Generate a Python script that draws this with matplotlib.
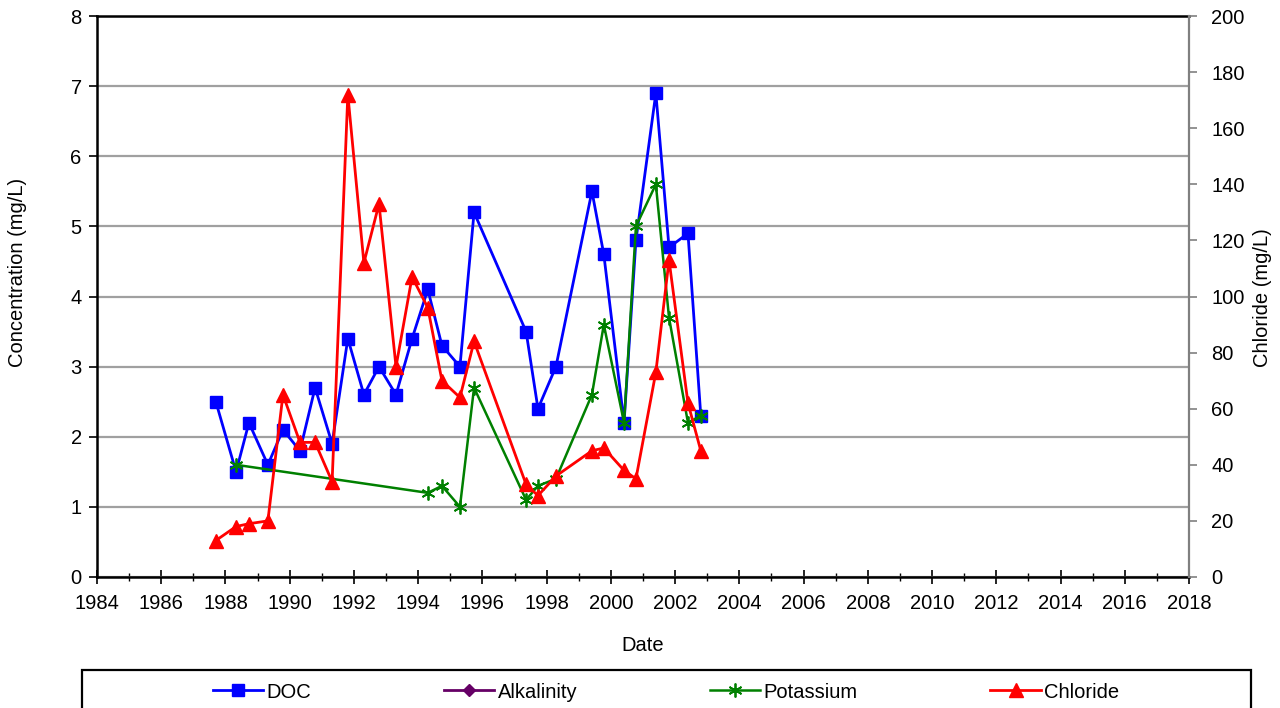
import matplotlib
matplotlib.use("Agg")
import matplotlib.pyplot as plt
from matplotlib.lines import Line2D
from matplotlib.patches import Rectangle
from matplotlib.ticker import MultipleLocator

plt.rcParams['font.family'] = ['Liberation Sans', 'DejaVu Sans']

# ---------------- data ----------------
doc_dates = [1987.70, 1988.33, 1988.73, 1989.32, 1989.79, 1990.32, 1990.79, 1991.32,
             1991.81, 1992.31, 1992.78, 1993.31, 1993.81, 1994.30, 1994.74, 1995.30,
             1995.74, 1997.36, 1997.73, 1998.29, 1999.41, 1999.78, 2000.41, 2000.78,
             2001.40, 2001.81, 2002.40, 2002.80]
doc_values = [2.5, 1.5, 2.2, 1.6, 2.1, 1.8, 2.7, 1.9,
              3.4, 2.6, 3.0, 2.6, 3.4, 4.1, 3.3, 3.0,
              5.2, 3.5, 2.4, 3.0, 5.5, 4.6, 2.2, 4.8,
              6.9, 4.7, 4.9, 2.3]

potassium_dates = [1988.33, 1994.30, 1994.74, 1995.30, 1995.74, 1997.36, 1997.73, 1998.29,
                   1999.41, 1999.78, 2000.41, 2000.78, 2001.40, 2001.81, 2002.40, 2002.80]
potassium_values = [1.6, 1.2, 1.3, 1.0, 2.7, 1.1, 1.3, 1.4,
                    2.6, 3.6, 2.2, 5.0, 5.6, 3.7, 2.2, 2.3]

alkalinity_dates = []
alkalinity_values = []

chloride_dates = doc_dates
chloride_values = [13, 18, 19, 20, 65, 48, 48, 34,
                   172, 112, 133, 75, 107, 96, 70, 64,
                   84, 33, 29, 36, 45, 46, 38, 35,
                   73, 113, 62, 45]

title_text = "Water Quality of Groundwater Monitoring Well Summary"

# ---------------- figure ----------------
W, H = 1280, 708
fig = plt.figure(figsize=(12.8, 7.08), dpi=100)
ax = fig.add_axes([97 / W, 1 - 577 / H, (1189 - 97) / W, (577 - 16) / H])
ax2 = ax.twinx()

fs = 14.5

ax.plot(doc_dates, doc_values, color='#0000FF', lw=2.0, marker='s', ms=8.5,
        mec='#0000FF', mfc='#0000FF', zorder=3, label='DOC')
ax.plot(alkalinity_dates, alkalinity_values, color='#660066', lw=2.0, marker='D', ms=6,
        zorder=3, label='Alkalinity')
ax.plot(potassium_dates, potassium_values, color='#008000', lw=1.8, marker=(6, 2, 0), ms=10,
        mew=1.3, mec='#008000', zorder=4, label='Potassium')
ax2.plot(chloride_dates, chloride_values, color='#FF0000', lw=2.0, marker='^', ms=10,
         mec='#FF0000', mfc='#FF0000', zorder=3, label='Chloride')

ax.set_xlim(1984, 2018)
ax.set_ylim(0, 8)
ax2.set_ylim(0, 200)

ax.xaxis.set_major_locator(MultipleLocator(2))
ax.xaxis.set_minor_locator(MultipleLocator(1))
ax.yaxis.set_major_locator(MultipleLocator(1))
ax2.yaxis.set_major_locator(MultipleLocator(20))

ax.grid(axis='y', color='#A0A0A0', lw=1.6, zorder=0)
ax.set_axisbelow(True)

ax.tick_params(axis='x', which='major', direction='inout', length=10, width=1.2,
               labelsize=fs, pad=7)
ax.tick_params(axis='x', which='minor', direction='inout', length=6, width=1.0)
ax.tick_params(axis='y', which='major', direction='out', length=6, width=1.2,
               labelsize=fs, pad=5)
ax2.tick_params(axis='y', which='major', direction='out', length=6, width=1.2,
                color='#808080', labelsize=fs, pad=10)

for s in ['left', 'bottom', 'top']:
    ax.spines[s].set_linewidth(1.8)
    ax.spines[s].set_color('black')
ax.spines['right'].set_visible(False)
for s in ['left', 'bottom', 'top']:
    ax2.spines[s].set_visible(False)
ax2.spines['right'].set_color('#808080')
ax2.spines['right'].set_linewidth(1.6)

ax.set_xlabel('Date', fontsize=fs, labelpad=17)
ax.set_ylabel('Concentration (mg/L)', fontsize=fs)
ax.yaxis.set_label_coords(18 / W, 1 - 272 / H, transform=fig.transFigure)
ax2.set_ylabel('Chloride (mg/L)', fontsize=fs)
ax2.yaxis.set_label_coords(1262 / W, 1 - 298 / H, transform=fig.transFigure)
ax2.yaxis.label.set_va('center')
ax.yaxis.label.set_va('center')

# title (cut at top edge of the image, as in the reference)
fig.text(0.5 + 3 / W, 1 + 4 / H, title_text, ha='center', va='baseline',
         fontsize=15, fontweight='bold')

# legend box (runs off the bottom edge)
rect = Rectangle((82 / W, 1 - 730 / H), (1251 - 82) / W, (730 - 670) / H,
                 transform=fig.transFigure, fill=False, edgecolor='black', lw=1.6,
                 clip_on=False)
fig.patches.append(rect)

handles = [
    Line2D([], [], color='#0000FF', lw=2.0, marker='s', ms=8.5),
    Line2D([], [], color='#660066', lw=2.0, marker='D', ms=6),
    Line2D([], [], color='#008000', lw=1.8, marker=(6, 2, 0), ms=10, mew=1.3),
    Line2D([], [], color='#FF0000', lw=2.0, marker='^', ms=10),
]
labels = ['DOC', 'Alkalinity', 'Potassium', 'Chloride']
fig.legend(handles, labels, loc='center', bbox_to_anchor=(666 / W, 1 - 692 / H),
           ncol=4, frameon=False, fontsize=fs, handlelength=2.5, handletextpad=0.15,
           columnspacing=6.6, borderpad=0, borderaxespad=0)

fig.savefig('out.png', dpi=100)
